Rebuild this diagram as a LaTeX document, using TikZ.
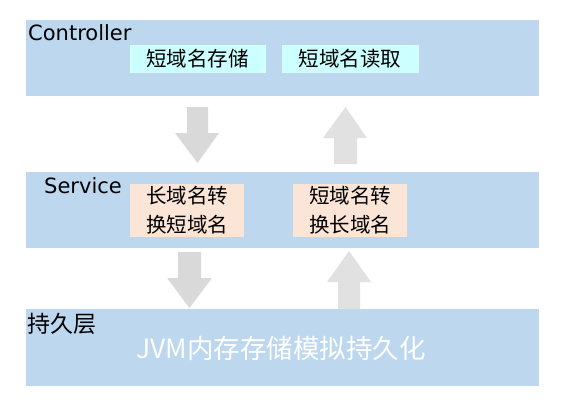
\documentclass[tikz,border=0pt]{standalone}
\usepackage{fontspec}
\setmainfont{DejaVu Sans}
\newfontfamily\cjk{Noto Sans CJK SC}
\definecolor{bandblue}{HTML}{BDD7EE}
\definecolor{boxcyan}{HTML}{CCFFFF}
\definecolor{boxpeach}{HTML}{FBE5D6}
\definecolor{arrowgrayA}{HTML}{D9D9D9}
\definecolor{arrowgrayB}{HTML}{E1E1E1}
\tikzset{
  band/.style={fill=bandblue, draw=none},
  cbox/.style={fill=boxcyan, draw=boxcyan!85!white, line width=0.6pt, minimum width=135pt, minimum height=27pt, inner sep=0pt, font=\cjk\fontsize{20.5}{24}\selectfont},
  pbox/.style={fill=boxpeach, draw=none, minimum width=114pt, minimum height=53pt, inner sep=0pt, align=center, font=\cjk\fontsize{20.5}{29}\selectfont},
  layerlabel/.style={anchor=base west, inner sep=0pt, font=\fontsize{21}{25}\selectfont},
  cjklabel/.style={anchor=base west, inner sep=0pt, font=\cjk\fontsize{23}{27}\selectfont},
  downarrow/.style={fill=arrowgrayA, draw=none},
  uparrow/.style={fill=arrowgrayB, draw=none}
}
\begin{document}
\begin{tikzpicture}[x=1pt, y=-1pt]
\useasboundingbox (0,0) rectangle (570,405);
% bands
\path[band] (26,20) rectangle (539,96);
\path[band] (26,172) rectangle (539,248);
\path[band] (26,309) rectangle (539,386);
% labels
\node[layerlabel] (ctl) at (28,40) {Controller};
\node[layerlabel] (svc) at (44,193) {Service};
\node[cjklabel] (per) at (27,332) {持久层};
% boxes
\node[cbox] (store) at (197.5,58.5) {短域名存储};
\node[cbox, minimum width=136pt] (read) at (350,58.5) {短域名读取};
\node[pbox] (l2s) at (187,210.5) {长域名转\\换短域名};
\node[pbox] (s2l) at (350,210.5) {短域名转\\换长域名};
\node[font=\cjk\fontsize{26.5}{31}\selectfont, text=white, inner sep=0pt] (jvm) at (281,348) {JVM内存存储模拟持久化};
% arrows
\path[downarrow] (187,107) -- (208,107) -- (208,133) -- (219,133) -- (197.5,163) -- (175,133) -- (187,133) -- cycle;
\path[uparrow] (334,164) -- (357,164) -- (357,138) -- (367,138) -- (345.5,107) -- (323,138) -- (334,138) -- cycle;
\path[downarrow] (178,252) -- (201,252) -- (201,278) -- (212,278) -- (189.5,308) -- (167,278) -- (178,278) -- cycle;
\path[uparrow] (338,309) -- (360,309) -- (360,282) -- (371,282) -- (349,251) -- (327,282) -- (338,282) -- cycle;
\end{tikzpicture}
\end{document}
